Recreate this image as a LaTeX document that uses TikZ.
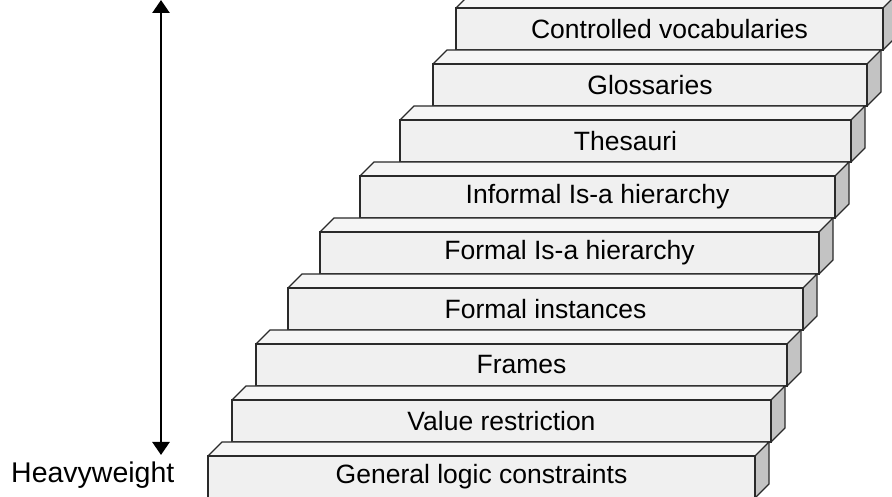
\documentclass[tikz,border=0pt]{standalone}
\usepackage{fontspec}
\setmainfont{Liberation Sans}
\usetikzlibrary{arrows.meta}
\definecolor{frontgray}{HTML}{F0F0F0}
\definecolor{topgray}{HTML}{F5F5F5}
\definecolor{sidegray}{HTML}{C3C3C3}
\definecolor{edgegray}{HTML}{2A2A2A}
\tikzset{
  edge/.style={draw=edgegray, line width=1.2pt, line join=miter},
  steplabel/.style={font=\fontsize{26.5}{30}\selectfont, text=black, inner sep=0pt},
  axislabel/.style={font=\fontsize{28.5}{32}\selectfont, text=black, inner sep=0pt, anchor=base west},
  scalearrow/.style={line width=2.6pt, {Triangle[width=17pt,length=13pt]}-{Triangle[width=17pt,length=13pt]}}
}
\begin{document}
\begin{tikzpicture}[x=1pt,y=1pt]
\useasboundingbox (0,0) rectangle (892,497);
\clip (0,0) rectangle (892,497);
% one stair step: front face, top face and right side face
% #1 name, #2 left x, #3 right x, #4 top y of front face, #5 text
\newcommand{\stairstep}[5]{%
  \pgfmathsetmacro{\yt}{497-#4}
  \pgfmathsetmacro{\yb}{497-#4-42}
  \fill[topgray] (#2,\yt) -- (#2+14,\yt+14) -- (#3+14,\yt+14) -- (#3,\yt) -- cycle;
  \fill[sidegray] (#3,\yt) -- (#3+14,\yt+14) -- (#3+14,\yb+14) -- (#3,\yb) -- cycle;
  \fill[frontgray] (#2,\yb) rectangle (#3,\yt);
  \draw[edge] (#2,\yb) rectangle (#3,\yt);
  \draw[edge] (#2,\yt) -- (#2+14,\yt+14) -- (#3+14,\yt+14) -- (#3,\yt);
  \draw[edge] (#3+14,\yt+14) -- (#3+14,\yb+14) -- (#3,\yb);
  \node[steplabel] (#1) at ({(#2+#3)/2},{(\yt+\yb)/2}) {#5};
}
\stairstep{cv}{456}{883}{8}{Controlled vocabularies}
\stairstep{gl}{433}{867}{64}{Glossaries}
\stairstep{th}{400}{851}{120}{Thesauri}
\stairstep{iia}{360}{835}{176}{Informal Is-a hierarchy}
\stairstep{fia}{320}{819}{232}{Formal Is-a hierarchy}
\stairstep{fi}{288}{803}{288}{Formal instances}
\stairstep{fr}{256}{787}{344}{Frames}
\stairstep{vr}{232}{771}{400}{Value restriction}
\stairstep{glc}{208}{755}{456}{General logic constraints}
% vertical scale arrow
\coordinate (scaletop) at (161,497);
\coordinate (scalebottom) at (161,42);
\draw[scalearrow] (scalebottom) -- (scaletop);
\node[axislabel] (heavy) at (11,14) {Heavyweight};
\end{tikzpicture}
\end{document}
